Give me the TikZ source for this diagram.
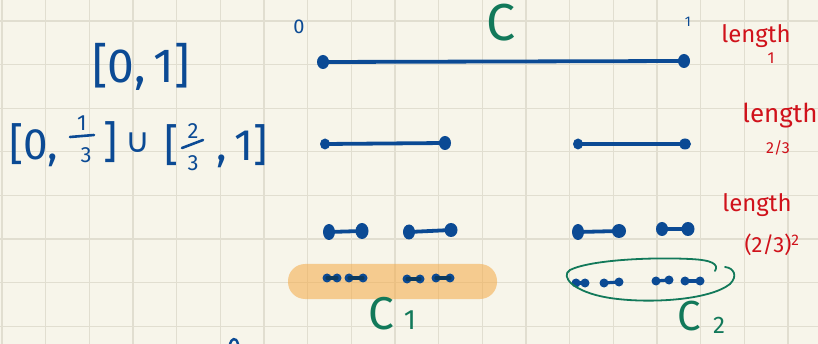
\documentclass[tikz,border=0pt]{standalone}
\usepackage{fontspec}
\setmainfont{Fira Sans}
\newfontfamily\dejavu{DejaVu Sans}
\usetikzlibrary{shapes.geometric}
\definecolor{paper}{HTML}{F7F5EA}
\definecolor{gridc}{HTML}{E1DED0}
\definecolor{ink}{HTML}{0B4A94}
\definecolor{navy}{HTML}{0B3A60}
\definecolor{grn}{HTML}{12795A}
\definecolor{rd}{HTML}{D0121B}
\definecolor{hl}{RGB}{245,170,70}
\tikzset{
  dot/.style={ellipse,fill=ink,inner sep=0pt,minimum width=12pt,minimum height=14pt},
  sdot/.style={ellipse,fill=ink,inner sep=0pt,minimum width=10pt,minimum height=11pt},
  tdot/.style={circle,fill=ink,inner sep=0pt,minimum size=9pt},
  seg/.style={draw=ink,line width=3.8pt,line cap=round},
  tseg/.style={draw=ink,line width=3.2pt,line cap=round},
  redtxt/.style={text=rd,inner sep=0pt,font=\fontsize{24}{24}\selectfont},
  grntxt/.style={text=grn,inner sep=0pt},
  inktxt/.style={text=ink,inner sep=0pt},
  big/.style={inktxt,font=\fontsize{48}{48}\selectfont},
  mid/.style={inktxt,font=\fontsize{44}{44}\selectfont},
  small/.style={inktxt,font=\fontsize{22}{22}\selectfont},
  bar/.style={draw=ink,line width=2.6pt,line cap=round}
}
\begin{document}
\begin{tikzpicture}[x=1pt,y=-1pt]
\fill[paper] (0,0) rectangle (818,344);
\useasboundingbox (0,0) rectangle (818,344);
\foreach \i in {0,...,18} \draw[gridc,line width=1.3pt] ({2+43.67*\i},0) -- ++(0,344);
\foreach \j in {0,...,7} \draw[gridc,line width=1.3pt] (0,{21+43.6*\j}) -- ++(818,0);

% left: [0, 1]
\node[big] (I) at (141,67) {[0,\,1]};

% left: [0, 1/3] U [2/3, 1]
\node[mid] (u0) at (34,145) {[0,};
\node[small] (n1) at (82,123) {1};
\coordinate (f1a) at (70,137);
\coordinate (f1b) at (94,135);
\draw[bar] (f1a) -- (f1b);
\node[small] (d1) at (86,155) {3};
\node[mid] (rb1) at (111,142) {]};
\node[mid,font=\dejavu\fontsize{34}{34}\selectfont] (cup) at (138,143) {∪};
\node[mid] (lb2) at (172,145) {[};
\node[small] (n2) at (193,131) {2};
\coordinate (f2a) at (182,148);
\coordinate (f2b) at (203,140);
\draw[bar] (f2a) -- (f2b);
\node[small] (d2) at (193,163) {3};
\node[mid] (u1) at (242,146) {,\,1]};

% labels
\node[inktxt,font=\fontsize{20}{20}\selectfont] (z) at (299,27) {0};
\node[inktxt,font=\fontsize{14}{14}\selectfont] (o) at (688,22) {1};
\node[grntxt,font=\fontsize{52}{52}\selectfont] (C) at (501,23) {C};

% row 1
\node[dot] (a0) at (323,62) {};
\node[dot] (a1) at (684,61) {};
\draw[seg] (a0.center) -- (a1.center);

% row 2
\node[sdot] (b0) at (325,144) {};
\node[dot] (b1) at (445,143) {};
\node[sdot] (b2) at (578,144) {};
\node[sdot,minimum width=12pt] (b3) at (685,144) {};
\draw[seg] (b0.center) -- (b1.center);
\draw[seg] (b2.center) -- (b3.center);

% row 3
\node[dot,minimum height=16pt] (c0) at (329,232) {};
\node[dot,minimum height=16pt,minimum width=13pt] (c1) at (362,231) {};
\node[dot,minimum height=15pt] (c2) at (409,232) {};
\node[dot,minimum width=13pt] (c3) at (451,230) {};
\node[dot,minimum height=16pt] (c4) at (578,232) {};
\node[dot,minimum height=14pt,minimum width=14pt] (c5) at (619,231) {};
\node[dot] (c6) at (662,229) {};
\node[dot,minimum width=13pt] (c7) at (688,229) {};
\draw[seg] (c0.center) -- (c1.center);
\draw[seg] (c2.center) -- (c3.center);
\draw[seg] (c4.center) -- (c5.center);
\draw[seg] (c6.center) -- (c7.center);

% highlight
\fill[hl,opacity=0.55,rounded corners=17pt] (288,264) rectangle (497,299);

% row 4 left (under highlight)
\begin{scope}[every node/.append style={fill=navy}]
\node[tdot] (d0) at (327,278) {};
\node[tdot] (d1) at (337,278) {};
\node[tdot] (d2) at (349,278) {};
\node[tdot] (d3) at (363,278) {};
\node[tdot] (d4) at (407,279) {};
\node[tdot] (d5) at (420,279) {};
\node[tdot] (d6) at (436,278) {};
\node[tdot] (d7) at (450,278) {};
\end{scope}
\draw[tseg,draw=navy] (d0.center) -- (d1.center);
\draw[tseg,draw=navy] (d2.center) -- (d3.center);
\draw[tseg,draw=navy] (d4.center) -- (d5.center);
\draw[tseg,draw=navy] (d6.center) -- (d7.center);

% row 4 right
\node[tdot] (e0) at (576,283) {};
\node[tdot] (e1) at (585,283) {};
\node[tdot] (e2) at (604,283) {};
\node[tdot] (e3) at (619,282) {};
\node[tdot] (e4) at (656,281) {};
\node[tdot] (e5) at (669,280) {};
\node[tdot] (e6) at (685,281) {};
\node[tdot] (e7) at (700,281) {};
\draw[tseg] (e0.center) -- (e1.center);
\draw[tseg] (e2.center) -- (e3.center);
\draw[tseg] (e4.center) -- (e5.center);
\draw[tseg] (e6.center) -- (e7.center);

% green loop
\draw[grn,line width=1.8pt,line cap=round]
  (715,271) .. controls (719,264) and (712,260) .. (690,259)
  .. controls (650,257) and (590,260) .. (570,270)
  .. controls (560,276) and (572,292) .. (610,298)
  .. controls (650,304) and (710,300) .. (730,284)
  .. controls (738,276) and (734,268) .. (725,267);

\node[grntxt,font=\fontsize{46}{46}\selectfont] (C1) at (381,314) {C};
\node[grntxt,font=\fontsize{28}{28}\selectfont] (C1s) at (410,320) {1};
\node[grntxt,font=\fontsize{42}{42}\selectfont] (C2) at (689,316) {C};
\node[grntxt,font=\fontsize{24}{24}\selectfont] (C2s) at (719,325) {2};

% red length labels
\node[redtxt] (L1) at (756,36) {length};
\node[redtxt,font=\fontsize{16}{16}\selectfont] (L1s) at (771,58) {1};
\node[redtxt,font=\fontsize{26}{26}\selectfont] (L2) at (780,116) {length};
\node[redtxt,font=\fontsize{16}{16}\selectfont] (L2s) at (778,148) {2/3};
\node[redtxt] (L3) at (757,205) {length};
\node[redtxt,font=\fontsize{22}{22}\selectfont] (L3s) at (772,245) {(2/3)\textsuperscript{2}};

% fragment at bottom
\draw[ink,line width=2.4pt,line cap=round] (230,344) .. controls (231,339) and (236,336) .. (238,344);
\end{tikzpicture}
\end{document}
